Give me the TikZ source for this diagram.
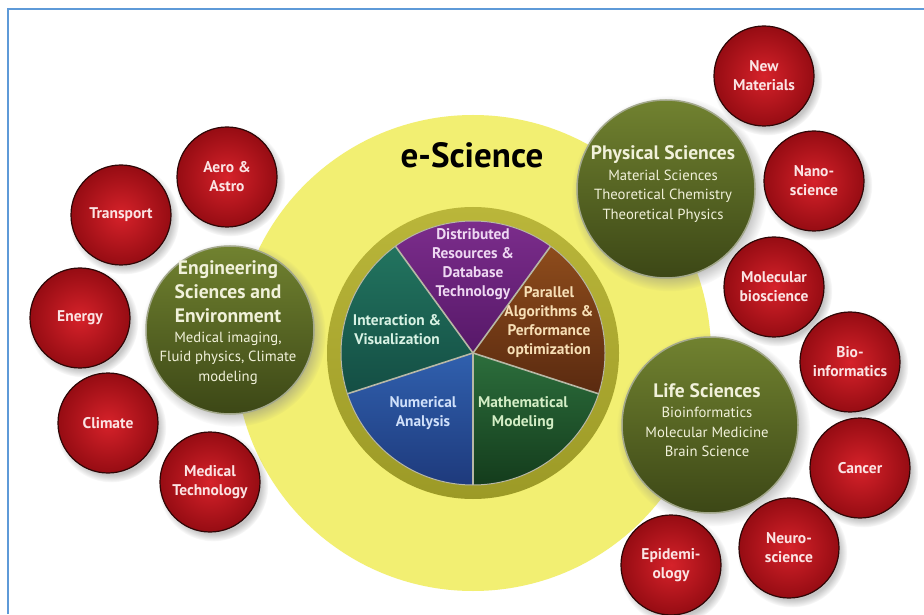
\documentclass[tikz,border=0pt]{standalone}
\usepackage{fontspec}
\setmainfont{PT Sans}
\usetikzlibrary{shadows,fadings,calc}
\definecolor{frameblue}{HTML}{5E9AD8}
\definecolor{yel}{HTML}{F2EF72}
\definecolor{ringtop}{HTML}{BAB63A}
\definecolor{ringbot}{HTML}{9C9A26}
\definecolor{sep}{HTML}{B8B8A6}
\definecolor{purtop}{HTML}{7E2E8E}\definecolor{purbot}{HTML}{561868}
\definecolor{brotop}{HTML}{8E4C1C}\definecolor{brobot}{HTML}{5A2A10}
\definecolor{mgrtop}{HTML}{2C6E3C}\definecolor{mgrbot}{HTML}{143C1C}
\definecolor{blutop}{HTML}{3060AE}\definecolor{blubot}{HTML}{1E3A7C}
\definecolor{teatop}{HTML}{22745F}\definecolor{teabot}{HTML}{144E44}
\definecolor{purtxt}{HTML}{EED8F2}
\definecolor{brotxt}{HTML}{F7DFB6}
\definecolor{mgrtxt}{HTML}{D4EEC6}
\definecolor{blutxt}{HTML}{D0E0FA}
\definecolor{teatxt}{HTML}{D8F2E4}
\definecolor{grntop}{HTML}{718230}
\definecolor{grnbot}{HTML}{3C4716}
\definecolor{grnrim}{HTML}{A3A88C}
\definecolor{grntxt}{HTML}{F1F1DA}
\definecolor{redin}{HTML}{D6222A}
\definecolor{redout}{HTML}{960C13}
\definecolor{redline}{HTML}{2E0606}
\definecolor{redtxt}{HTML}{FBE4E4}
\begin{document}
\begin{tikzpicture}[x=1pt,y=1pt,
  redc/.style={circle, minimum size=100pt, inner sep=0pt, draw=redline, line width=1.2pt,
    inner color=redin, outer color=redout,
    circular drop shadow={shadow xshift=3pt, shadow yshift=-4pt, opacity=.45},
    font=\bfseries\fontsize{15.5}{19}\selectfont, text=redtxt, align=center},
  grnc/.style={circle, minimum size=#1, inner sep=0pt, draw=grnrim, line width=1.5pt,
    top color=grntop, bottom color=grnbot,
    circular drop shadow={shadow xshift=3pt, shadow yshift=-4pt, opacity=.45}},
  grntitle/.style={align=center, text=grntxt, font=\bfseries\fontsize{19.5}{24}\selectfont},
  grnbody/.style={align=center, text=grntxt, font=\fontsize{14.7}{19.5}\selectfont},
  pietext/.style={align=center, font=\bfseries\fontsize{15.4}{19}\selectfont},
  sepline/.style={draw=sep, line width=1.6pt}
]
\useasboundingbox (0,0) rectangle (924,614);
\fill[white] (0,0) rectangle (924,614);
\draw[frameblue, line width=2pt] (7.5,0) -- (7.5,604.5) -- (924,604.5);

% big yellow disc
\node[circle, minimum size=476pt, inner sep=0pt, fill=yel] (disc) at (473,261) {};
\node[font=\bfseries\fontsize{35}{40}\selectfont, text=black] (title) at (472,459) {e-Science};

% pie
\coordinate (pc) at (473,261);
\node[circle, minimum size=292pt, inner sep=0pt, top color=ringtop, bottom color=ringbot] (ring) at (pc) {};
\fill[top color=purtop, bottom color=purbot] (pc) -- +(54:132) arc[start angle=54, end angle=126, radius=132] -- cycle;
\fill[top color=teatop, bottom color=teabot] (pc) -- +(126:132) arc[start angle=126, end angle=198, radius=132] -- cycle;
\fill[top color=blutop, bottom color=blubot] (pc) -- +(198:132) arc[start angle=198, end angle=270, radius=132] -- cycle;
\fill[top color=mgrtop, bottom color=mgrbot] (pc) -- +(270:132) arc[start angle=270, end angle=342, radius=132] -- cycle;
\fill[top color=brotop, bottom color=brobot] (pc) -- +(-18:132) arc[start angle=-18, end angle=54, radius=132] -- cycle;
\foreach \a in {54,126,198,270,342} \draw[sepline] (pc) -- +(\a:132);
\draw[sep, line width=1pt] (pc) circle[radius=132];

\node[pietext, text=purtxt] (dist) at (473,350) {Distributed\\Resources \&\\Database\\Technology};
\node[pietext, text=brotxt] (para) at (549,292) {Parallel\\Algorithms \&\\Performance\\optimization};
\node[pietext, text=teatxt] (inter) at (397,284.5) {Interaction \&\\Visualization};
\node[pietext, text=blutxt] (num) at (423,201) {Numerical\\Analysis};
\node[pietext, text=mgrtxt] (math) at (523,201) {Mathematical\\Modeling};

% green circles
\node[grnc=168pt] (eng) at (230,284) {};
\node[grntitle] (engt) at (228,322) {Engineering\\Sciences and\\Environment};
\node[grnbody] (engb) at (228,256) {Medical imaging,\\Fluid physics, Climate\\modeling};

\node[grnc=178pt] (phys) at (666,425) {};
\node[grntitle] (physt) at (663,459) {Physical Sciences};
\node[grnbody] (physb) at (663,418) {Material Sciences\\Theoretical Chemistry\\Theoretical Physics};

\node[grnc=176pt] (life) at (710,189) {};
\node[grntitle] (lifet) at (707,223) {Life Sciences};
\node[grnbody] (lifeb) at (707,182) {Bioinformatics\\Molecular Medicine\\Brain Science};

% red circles
\node[redc] (newmat) at (764,538) {New\\Materials};
\node[redc] (nano) at (814,433) {Nano-\\science};
\node[redc] (molbio) at (774,327) {Molecular\\bioscience};
\node[redc] (bioinf) at (850,252) {Bio-\\informatics};
\node[redc] (cancer) at (860,146) {Cancer};
\node[redc] (neuro) at (789,66) {Neuro-\\science};
\node[redc] (epid) at (671,49) {Epidemi-\\ology};
\node[redc] (aero) at (227,437) {Aero \&\\Astro};
\node[redc] (transport) at (121,399) {Transport};
\node[redc] (energy) at (80,296) {Energy};
\node[redc] (climate) at (108,191) {Climate};
\node[redc] (medtech) at (210,132) {Medical\\Technology};
\end{tikzpicture}
\end{document}
